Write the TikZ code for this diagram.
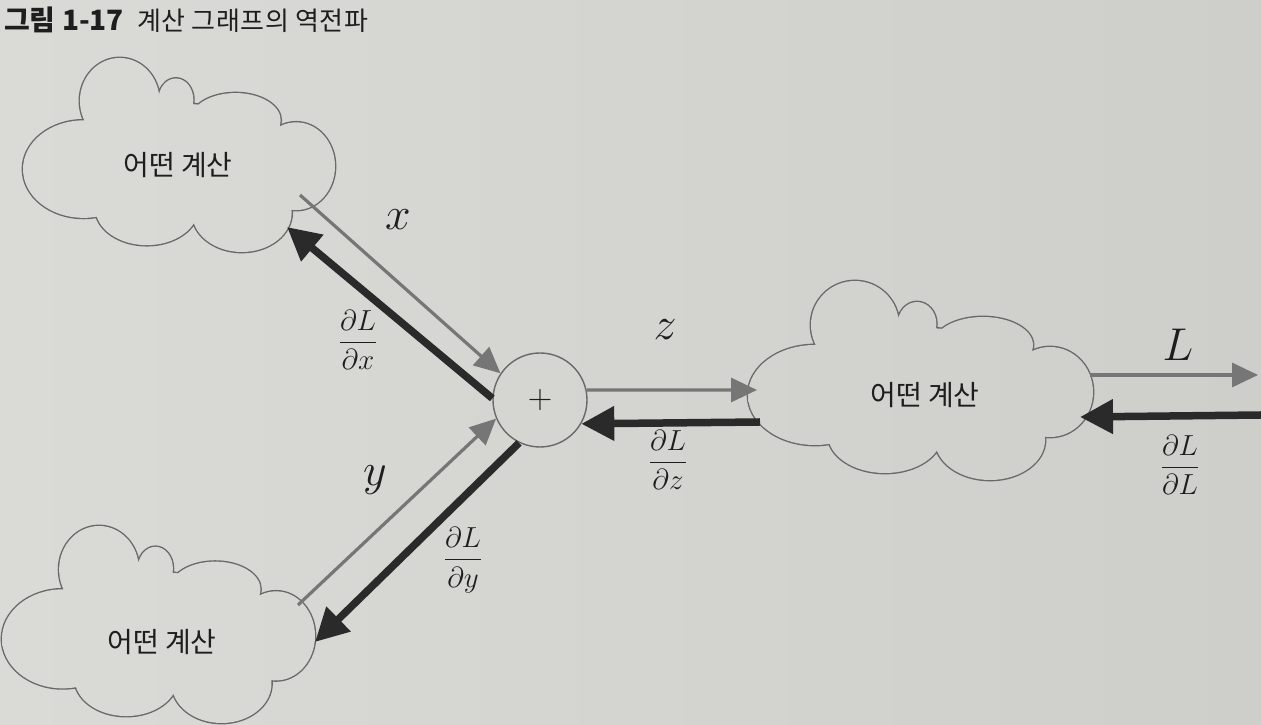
\RequirePackage{fix-cm}
\documentclass[tikz,border=0pt]{standalone}
\usepackage{amsmath}
\usepackage{fontspec}
\newfontfamily\kr{Noto Sans CJK KR}
\usetikzlibrary{arrows.meta,calc}
\definecolor{bgL}{RGB}{218,218,215}
\definecolor{bgR}{RGB}{206,206,203}
\definecolor{fwdgray}{RGB}{118,118,118}
\definecolor{bwdgray}{RGB}{42,42,42}
\definecolor{cloudgray}{RGB}{105,105,105}
\definecolor{ink}{RGB}{30,30,30}
% union of ellipses forming a cloud, in unit coordinates
\newcommand\cloudlobes{%
  (-0.380,0.55) ellipse[x radius=0.255,y radius=0.44]
  (-0.020,0.56) ellipse[x radius=0.112,y radius=0.22]
  (0.362,0.35) ellipse[x radius=0.290,y radius=0.28]
  (0.751,-0.12) ellipse[x radius=0.249,y radius=0.45]
  (0.403,-0.60) ellipse[x radius=0.319,y radius=0.40]
  (-0.206,-0.55) ellipse[x radius=0.330,y radius=0.38]
  (-0.612,-0.15) ellipse[x radius=0.388,y radius=0.50]
  (0.0,-0.08) ellipse[x radius=0.754,y radius=0.60]}
\newcommand\cloudat[4]{%
  \begin{scope}[shift={(#1,#2)}, xscale=#3, yscale=#4]
    \draw[cloudline] \cloudlobes;
  \end{scope}
  \begin{scope}
    \begin{scope}[shift={(#1,#2)}, xscale=#3, yscale=#4]
      \clip \cloudlobes;
      \shade[reset cm, left color=bgL, right color=bgR] (0,0) rectangle (1261,725);
    \end{scope}
  \end{scope}}
\begin{document}
\begin{tikzpicture}[x=1pt,y=1pt,
  cloudline/.style={draw=cloudgray, line width=2.8pt},
  cloudtext/.style={font=\kr\fontsize{28}{32}\selectfont, text=ink},
  fwd/.style={draw=fwdgray, line width=3.2pt, -{Triangle[length=26pt,width=24pt]}},
  bwd/.style={draw=bwdgray, line width=7.5pt, -{Triangle[length=33pt,width=33pt]}},
  var/.style={font=\fontsize{46}{50}\selectfont, text=ink},
  grad/.style={font=\fontsize{29}{34}\selectfont, text=ink},
  plusnode/.style={circle, draw=cloudgray, line width=1.4pt, minimum size=94pt, inner sep=0pt, font=\fontsize{34}{40}\selectfont, text=ink}
  ]
\useasboundingbox (0,0) rectangle (1261,725);
\shade[left color=bgL, right color=bgR] (0,0) rectangle (1261,725);

% caption
\node[anchor=base west, font=\kr\bfseries\fontsize{28}{32}\selectfont, text=ink, inner sep=0pt] (cap1) at (4,694) {그림 1-17};
\node[anchor=base west, font=\kr\fontsize{26}{30}\selectfont\addfontfeature{LetterSpace=2}, text=ink, inner sep=0pt] (cap2) at (137,694) {계산 그래프의 역전파};

% clouds
\cloudat{179}{570.5}{156}{97.5}
\cloudat{158.5}{101}{156.5}{99}
\cloudat{920.5}{345}{172.5}{100}
\node[cloudtext] (tl) at (178,560) {어떤 계산};
\node[cloudtext] (bl) at (162,83) {어떤 계산};
\node[cloudtext] (rc) at (925,330) {어떤 계산};

% plus node
\node[plusnode] (plus) at (540,325) {$+$};

% connector ends on clouds
\coordinate (tlOut) at (300,530);
\coordinate (tlIn) at (287,498);
\coordinate (blOut) at (298,120);
\coordinate (blIn) at (315,83);
\coordinate (rcIn) at (757,335);
\coordinate (rcOut) at (760,303);
\coordinate (rcL) at (1090,350);
\coordinate (Lend) at (1258,350);
\coordinate (dLstart) at (1261,310);
\coordinate (rcG) at (1080,308);

\draw[fwd] (tlOut) -- (plus.146);
\draw[bwd] (plus.178) -- (tlIn);
\draw[fwd] (blOut) -- (plus.203);
\draw[bwd] (plus.244) -- (blIn);
\draw[fwd] (plus.12) -- (rcIn);
\draw[bwd] (rcOut) -- (plus.-30);
\draw[fwd] (rcL) -- (Lend);
\draw[bwd] (dLstart) -- (rcG);

% labels
\node[var] (lx) at (398,505) {$x$};
\node[grad] (ldx) at (358,385) {$\dfrac{\partial L}{\partial x}$};
\node[var] (lz) at (665,395) {$z$};
\node[grad] (ldz) at (668,265) {$\dfrac{\partial L}{\partial z}$};
\node[var] (lL) at (1178,380) {$L$};
\node[grad] (ldL) at (1180,260) {$\dfrac{\partial L}{\partial L}$};
\node[var] (ly) at (375,245) {$y$};
\node[grad] (ldy) at (463,165) {$\dfrac{\partial L}{\partial y}$};
\end{tikzpicture}
\end{document}
